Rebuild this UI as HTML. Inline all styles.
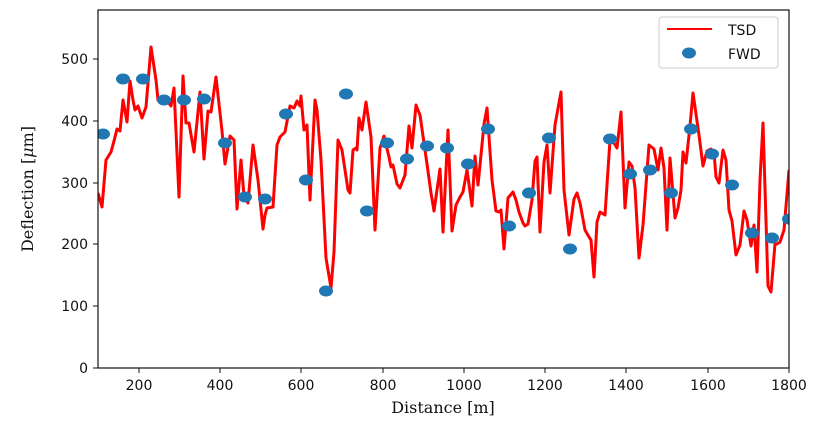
<!DOCTYPE html>
<html><head><meta charset="utf-8"><style>
body{margin:0;background:#fff;width:826px;height:425px;overflow:hidden}
text{font-family:"DejaVu Sans","Liberation Sans",sans-serif;font-size:14px;fill:#111}
.s{font-family:"DejaVu Serif","Liberation Serif",serif;font-size:16px}
</style></head><body>
<svg width="826" height="425" xmlns="http://www.w3.org/2000/svg">
<defs><clipPath id="c"><rect x="98" y="10" width="691" height="358"/></clipPath></defs>
<g clip-path="url(#c)">
<polyline fill="none" stroke="#f00" stroke-width="3" stroke-linejoin="round" points="98,193 102,207 106,160 111,152 114,141 117,129 120,131 123,100 127,122 130,81 133,100 135,110 138,106 142,118 146,107 151,47 156,80 158,100 162,97 166,103 168,102 171,106 174,88 179,197 183,76 186,123 189,123 194,152 200,92 204,159 208,111 211,112 216,77 222,131 225,164 230,136 234,140 237,209 241,160 244,196 248,203 253,145 258,180 263,229 265,215 267,208 273,207 277,145 280,137 285,132 290,106 294,108 297,101 300,106 301,96 304,130 307,125 310,200 315,100 317,110 321,160 326,258 331,288 334,252 338,140 342,150 348,190 350,193 353,150 356,148 357,150 359,118 362,130 366,102 371,137 375,230 380,148 384,136 389,157 391,167 393,165 397,184 400,188 405,175 409,126 412,148 416,105 420,115 427,164 431,193 434,211 440,169 443,232 448,130 452,231 456,205 460,197 463,192 467,170 472,206 475,156 478,185 481,155 484,124 487,108 492,180 496,211 499,212 501,210 504,249 508,198 513,192 516,200 519,212 523,223 525,226 528,224 532,200 535,161 537,157 540,232 544,162 547,145 550,193 555,125 561,92 564,190 569,235 574,199 577,193 580,203 585,230 589,237 591,240 594,277 597,222 600,212 605,215 610,140 614,143 617,148 621,112 625,208 629,162 632,166 635,188 639,258 643,225 649,145 654,149 658,170 661,148 664,168 667,230 670,158 675,218 678,208 681,190 683,152 686,163 690,126 693,93 699,135 703,166 707,151 711,149 714,152 716,177 719,183 723,150 726,160 729,210 732,221 736,255 740,245 744,211 747,220 751,246 754,225 757,272 760,180 763,123 768,286 771,292 775,244 777,244 780,242 784,230 789,170"/>
<g fill="#1f77b4">
<ellipse cx="103" cy="134" rx="7" ry="5.5"/><ellipse cx="123" cy="79" rx="7" ry="5.5"/><ellipse cx="143" cy="79" rx="7" ry="5.5"/><ellipse cx="164" cy="100" rx="7" ry="5.5"/><ellipse cx="184" cy="100" rx="7" ry="5.5"/><ellipse cx="204" cy="99" rx="7" ry="5.5"/><ellipse cx="225" cy="143" rx="7" ry="5.5"/><ellipse cx="245" cy="197" rx="7" ry="5.5"/><ellipse cx="265" cy="199" rx="7" ry="5.5"/><ellipse cx="286" cy="114" rx="7" ry="5.5"/><ellipse cx="306" cy="180" rx="7" ry="5.5"/><ellipse cx="326" cy="291" rx="7" ry="5.5"/><ellipse cx="346" cy="94" rx="7" ry="5.5"/><ellipse cx="367" cy="211" rx="7" ry="5.5"/><ellipse cx="387" cy="143" rx="7" ry="5.5"/><ellipse cx="407" cy="159" rx="7" ry="5.5"/><ellipse cx="427" cy="146" rx="7" ry="5.5"/><ellipse cx="447" cy="148" rx="7" ry="5.5"/><ellipse cx="468" cy="164" rx="7" ry="5.5"/><ellipse cx="488" cy="129" rx="7" ry="5.5"/><ellipse cx="509" cy="226" rx="7" ry="5.5"/><ellipse cx="529" cy="193" rx="7" ry="5.5"/><ellipse cx="549" cy="138" rx="7" ry="5.5"/><ellipse cx="570" cy="249" rx="7" ry="5.5"/><ellipse cx="610" cy="139" rx="7" ry="5.5"/><ellipse cx="630" cy="174" rx="7" ry="5.5"/><ellipse cx="650" cy="170" rx="7" ry="5.5"/><ellipse cx="671" cy="193" rx="7" ry="5.5"/><ellipse cx="691" cy="129" rx="7" ry="5.5"/><ellipse cx="712" cy="154" rx="7" ry="5.5"/><ellipse cx="732" cy="185" rx="7" ry="5.5"/><ellipse cx="752" cy="233" rx="7" ry="5.5"/><ellipse cx="772" cy="238" rx="7" ry="5.5"/><ellipse cx="789" cy="219" rx="7" ry="5.5"/>
</g></g>
<rect x="98" y="10" width="691" height="358" fill="none" stroke="#111" stroke-width="1.2"/>
<g stroke="#111" stroke-width="1">
<line x1="139" y1="368" x2="139" y2="373"/><line x1="220" y1="368" x2="220" y2="373"/><line x1="301" y1="368" x2="301" y2="373"/><line x1="383" y1="368" x2="383" y2="373"/><line x1="464" y1="368" x2="464" y2="373"/><line x1="545" y1="368" x2="545" y2="373"/><line x1="626" y1="368" x2="626" y2="373"/><line x1="708" y1="368" x2="708" y2="373"/><line x1="789" y1="368" x2="789" y2="373"/>
<line x1="93" y1="368" x2="98" y2="368"/><line x1="93" y1="306" x2="98" y2="306"/><line x1="93" y1="244" x2="98" y2="244"/><line x1="93" y1="183" x2="98" y2="183"/><line x1="93" y1="121" x2="98" y2="121"/><line x1="93" y1="59" x2="98" y2="59"/>
</g>
<g text-anchor="middle">
<text x="139" y="390">200</text><text x="220" y="390">400</text><text x="301" y="390">600</text><text x="383" y="390">800</text><text x="464" y="390">1000</text><text x="545" y="390">1200</text><text x="626" y="390">1400</text><text x="708" y="390">1600</text><text x="789" y="390">1800</text>
</g>
<g text-anchor="end">
<text x="88" y="373">0</text><text x="88" y="311">100</text><text x="88" y="249">200</text><text x="88" y="188">300</text><text x="88" y="126">400</text><text x="88" y="64">500</text>
</g>
<text class="s" x="443" y="413" text-anchor="middle">Distance [m]</text>
<text class="s" x="0" y="0" transform="translate(33,189) rotate(-90)" text-anchor="middle">Deflection [<tspan font-style="italic">μ</tspan>m]</text>
<rect x="659" y="17" width="119" height="51" rx="3" fill="#fff" stroke="#ccc"/>
<line x1="667" y1="29" x2="712" y2="29" stroke="#f00" stroke-width="2"/>
<text x="728" y="35">TSD</text>
<ellipse cx="689" cy="53" rx="7" ry="5.5" fill="#1f77b4"/>
<text x="728" y="59">FWD</text>
</svg>
</body></html>
